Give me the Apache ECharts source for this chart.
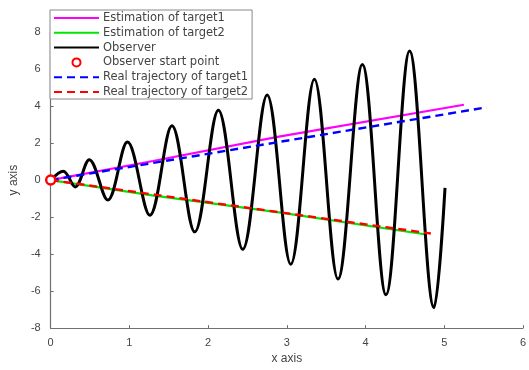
<!DOCTYPE html>
<html>
<head>
<meta charset="utf-8">
<script src="https://cdn.jsdelivr.net/npm/echarts@6/dist/echarts.min.js"></script>
<style>html,body{margin:0;padding:0;background:#fff;}#c{width:529px;height:370px;}</style>
</head>
<body>
<div id="c"></div>
<script>
// Series names
var seriesNames = ['Estimation of target1', 'Estimation of target2', 'Observer', 'Observer start point', 'Real trajectory of target1', 'Real trajectory of target2'];
// Axis ticks
var xTicks = [0, 1, 2, 3, 4, 5, 6];
var yTicks = [-8, -6, -4, -2, 0, 2, 4, 6, 8];
// Estimation of target1 (x, y)
var est1X = [0, 1.3, 2.9, 5.25];
var est1Y = [0, 1.03, 2.35, 4.07];
// Estimation of target2
var est2X = [0, 1.29, 2.9, 4.75];
var est2Y = [0, -0.83, -1.75, -2.93];
// Real trajectory of target1
var real1X = [0, 5.54];
var real1Y = [0, 3.93];
// Real trajectory of target2
var real2X = [0, 4.83];
var real2Y = [0, -2.89];
// Observer path: start, turning points (peaks / troughs) and end
var obsX = [0, 0.16, 0.31, 0.49, 0.725, 0.975, 1.26, 1.54, 1.83, 2.13, 2.44, 2.75, 3.05, 3.35, 3.65, 3.96, 4.26, 4.56, 4.87, 5.01];
var obsY = [0, 0.48, -0.37, 1.1, -1.08, 2.05, -1.9, 2.93, -2.8, 3.77, -3.74, 4.6, -4.55, 5.45, -5.35, 6.24, -6.2, 6.98, -6.9, -0.42];
// Observer start point
var startX = [0];
var startY = [0];

function pairs(xs, ys) { return xs.map(function (x, i) { return [x, ys[i]]; }); }

var chart = echarts.init(document.getElementById('c'), null, { renderer: 'canvas' });
var font = 'Liberation Sans, Arial, sans-serif';
var legFont = 'DejaVu Sans, sans-serif';
var axisColor = '#707070';
var textColor = '#444';

chart.setOption({
  animation: false,
  backgroundColor: '#fff',
  grid: { left: 47, right: 2, top: 32, bottom: 37, containLabel: false },
  xAxis: {
    type: 'value', min: xTicks[0], max: xTicks[xTicks.length - 1], interval: 1,
    name: 'x axis', nameLocation: 'middle', nameGap: 18,
    nameTextStyle: { color: textColor, fontSize: 12, fontFamily: font },
    axisLine: { show: true, onZero: false, lineStyle: { color: axisColor, width: 1.2 } },
    axisTick: { show: true, inside: true, length: 3, lineStyle: { color: axisColor } },
    axisLabel: { color: textColor, fontSize: 11, fontFamily: font, margin: 9 },
    splitLine: { show: false }
  },
  yAxis: {
    type: 'value', min: yTicks[0], max: yTicks[yTicks.length - 1], interval: 2,
    name: 'y axis', nameLocation: 'middle', nameGap: 30, nameRotate: 90,
    nameTextStyle: { color: textColor, fontSize: 12, fontFamily: font },
    axisLine: { show: true, onZero: false, lineStyle: { color: axisColor, width: 1.2 } },
    axisTick: { show: true, inside: true, length: 3, lineStyle: { color: axisColor } },
    axisLabel: { color: textColor, fontSize: 11, fontFamily: font, margin: 10 },
    splitLine: { show: false }
  },
  legend: {
    orient: 'vertical', left: 50, top: 10,
    backgroundColor: '#fff', borderColor: '#888', borderWidth: 1,
    padding: [2, 4, 1, 3],
    itemWidth: 45, itemHeight: 10, itemGap: 2.8,
    textStyle: { color: textColor, fontSize: 11.5, fontFamily: legFont, padding: [0, 0, 0, -1] },
    data: [
      { name: seriesNames[0], itemStyle: { opacity: 0 } },
      { name: seriesNames[1], itemStyle: { opacity: 0 } },
      { name: seriesNames[2], itemStyle: { opacity: 0 } },
      { name: seriesNames[3], lineStyle: { width: 0, opacity: 0 } },
      { name: seriesNames[4], itemStyle: { opacity: 0 } },
      { name: seriesNames[5], itemStyle: { opacity: 0 } }
    ]
  },
  series: [
    { name: seriesNames[0], type: 'line', symbol: 'none', data: pairs(est1X, est1Y),
      lineStyle: { color: '#ff00ff', width: 2.2 }, itemStyle: { color: '#ff00ff' } },
    { name: seriesNames[1], type: 'line', symbol: 'none', data: pairs(est2X, est2Y),
      lineStyle: { color: '#00e600', width: 2.2 }, itemStyle: { color: '#00e600' } },
    { name: seriesNames[2], type: 'line', symbol: 'none', smooth: 0.36, data: pairs(obsX, obsY),
      lineStyle: { color: '#000', width: 3 }, itemStyle: { color: '#000' } },
    { name: seriesNames[3], type: 'line', symbol: 'circle', symbolSize: 9, showSymbol: true, data: pairs(startX, startY),
      lineStyle: { width: 0, opacity: 0 }, itemStyle: { color: '#fff', borderColor: '#ff0000', borderWidth: 2.4 }, z: 5 },
    { name: seriesNames[4], type: 'line', symbol: 'none', data: pairs(real1X, real1Y),
      lineStyle: { color: '#0000ff', width: 2.4, type: [8, 5] }, itemStyle: { color: '#0000ff' } },
    { name: seriesNames[5], type: 'line', symbol: 'none', data: pairs(real2X, real2Y),
      lineStyle: { color: '#ff0000', width: 2.4, type: [8, 5] }, itemStyle: { color: '#ff0000' } }
  ]
});
</script>
</body>
</html>
